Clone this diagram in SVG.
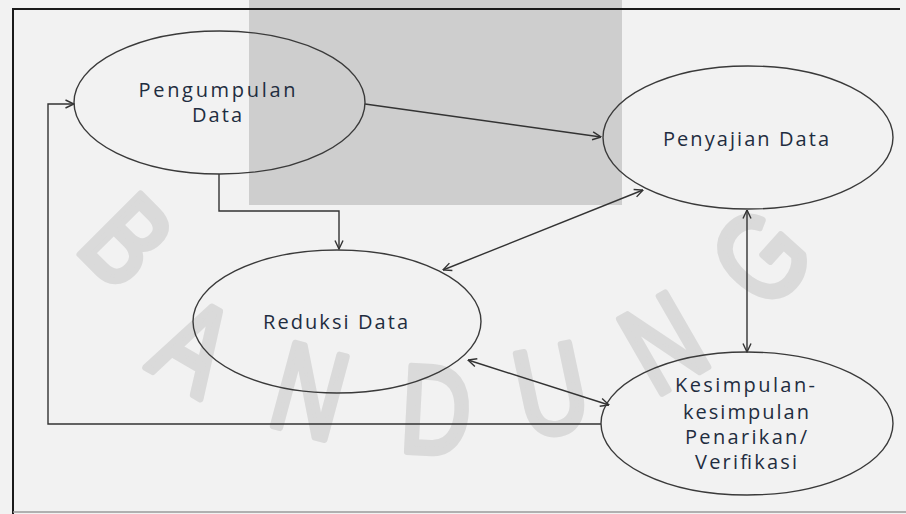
<svg xmlns="http://www.w3.org/2000/svg" width="906" height="514" viewBox="0 0 906 514">
<defs>
<style>
.bg{fill:#f2f2f2}
.wm{fill:#dadada;stroke:#dadada;stroke-width:7;stroke-linejoin:round;font-family:"Liberation Sans",Arial,sans-serif;font-size:124px;text-anchor:middle}
.frame{fill:none;stroke:#1a1a1a;stroke-width:2}
.node{fill:none;stroke:#3a3a3a;stroke-width:1.4}
.lbl{fill:#1f2d40;font-family:"Open Sans","Noto Sans",sans-serif;font-size:20px;text-anchor:middle}
.conn{fill:none;stroke:#333333;stroke-width:1.4}
</style>
<marker id="arr" viewBox="0 0 10 10" refX="9.5" refY="5" markerWidth="10" markerHeight="10" markerUnits="userSpaceOnUse" orient="auto-start-reverse">
<path d="M1,1 L9.5,5 L1,9" fill="none" stroke="#333333" stroke-width="1.4"/>
</marker>
</defs>
<rect class="bg" x="0" y="0" width="906" height="514"/>
<rect x="249" y="0" width="373" height="205" fill="#cecece"/>
<g id="watermark">
<text class="wm" transform="translate(128,240) rotate(45) scale(0.78,1)" y="44">B</text>
<text class="wm" transform="translate(195,345) rotate(30) scale(0.78,1)" y="44">A</text>
<text class="wm" transform="translate(310,390) rotate(15) scale(0.78,1)" y="44">N</text>
<text class="wm" transform="translate(436,409) rotate(3) scale(0.78,1)" y="44">D</text>
<text class="wm" transform="translate(551,389) rotate(-12) scale(0.78,1)" y="44">U</text>
<text class="wm" transform="translate(663,342) rotate(-30) scale(0.78,1)" y="44">N</text>
<text class="wm" transform="translate(760,256) rotate(-48) scale(0.78,1)" y="44">G</text>
</g>
<path class="frame" d="M900,9 H13 V514"/>
<line x1="13" y1="512" x2="906" y2="512" stroke="#9a9a9a" stroke-width="1.5"/>
<g id="connectors">
<path class="conn" d="M365,104 L601,137" marker-end="url(#arr)"/>
<path class="conn" d="M219,174 V211 H339 V249" marker-end="url(#arr)"/>
<path class="conn" d="M601,424 H48 V104 H74" marker-end="url(#arr)"/>
<path class="conn" d="M643,190 L443,270" marker-start="url(#arr)" marker-end="url(#arr)"/>
<path class="conn" d="M468,360 L609,405" marker-start="url(#arr)" marker-end="url(#arr)"/>
<path class="conn" d="M747,210 V352" marker-start="url(#arr)" marker-end="url(#arr)"/>
</g>
<g id="pengumpulan">
<ellipse class="node" cx="219.5" cy="102.5" rx="145.5" ry="71.5"/>
<text class="lbl" x="217" y="97" textLength="157" lengthAdjust="spacing">Pengumpulan</text>
<text class="lbl" x="217" y="122" textLength="50" lengthAdjust="spacing">Data</text>
</g>
<g id="penyajian">
<ellipse class="node" cx="748" cy="137.5" rx="145" ry="71.5"/>
<text class="lbl" x="746" y="146" textLength="166" lengthAdjust="spacing">Penyajian Data</text>
</g>
<g id="reduksi">
<ellipse class="node" cx="337" cy="321.5" rx="144" ry="71.5"/>
<text class="lbl" x="335.5" y="329" textLength="145" lengthAdjust="spacing">Reduksi Data</text>
</g>
<g id="kesimpulan">
<ellipse class="node" cx="747" cy="423.5" rx="146" ry="71.5"/>
<text class="lbl" x="745" y="392" textLength="140" lengthAdjust="spacing">Kesimpulan-</text>
<text class="lbl" x="746" y="419" textLength="126" lengthAdjust="spacing">kesimpulan</text>
<text class="lbl" x="746" y="444" textLength="122" lengthAdjust="spacing">Penarikan/</text>
<text class="lbl" x="746" y="469" textLength="102" lengthAdjust="spacing">Verifikasi</text>
</g>
</svg>
